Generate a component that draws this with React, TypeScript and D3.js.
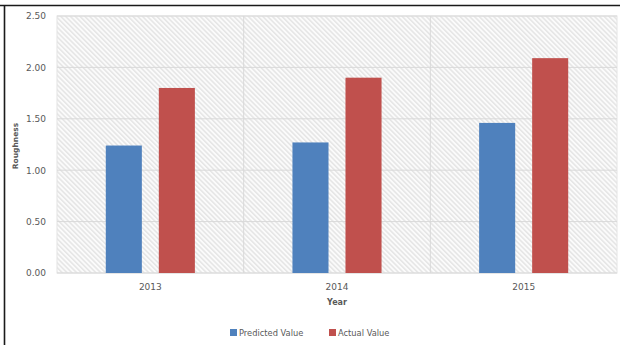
import React from "react";
import * as d3 from "d3";

const years = ["2013", "2014", "2015"];
const seriesNames = ["Predicted Value", "Actual Value"];
const predicted = [1.24, 1.27, 1.46];
const actual = [1.8, 1.9, 2.09];
const yTicks = [0, 0.5, 1, 1.5, 2, 2.5];
const colors = ["#4F81BD", "#C0504D"];

const W = 620;
const H = 345;
const plot = { left: 57, right: 617, top: 16, bottom: 273 };
const FONT = "'DejaVu Sans', Verdana, sans-serif";

export default function App() {
  const x = d3.scaleBand<string>().domain(years).range([plot.left, plot.right]).paddingInner(0).paddingOuter(0);
  const xs = d3.scaleBand<string>().domain(seriesNames).range([0, x.bandwidth()]).paddingInner(0.32).paddingOuter(0.92);
  const y = d3.scaleLinear().domain([0, 2.5]).range([plot.bottom, plot.top]);
  const values = [predicted, actual];

  return (
    <div style={{ position: "absolute", left: 0, top: 0 }}>
      <svg width={W} height={H} style={{ display: "block", background: "#ffffff" }}>
        <defs>
          <pattern id="hatch" patternUnits="userSpaceOnUse" width={3.4} height={3.4} patternTransform="rotate(-45)">
            <rect width={3.4} height={3.4} fill="#fbfbfb" />
            <line x1={0.8} y1={0} x2={0.8} y2={3.4} stroke="#dadada" strokeWidth={1} />
          </pattern>
        </defs>
        <rect x={plot.left} y={plot.top} width={plot.right - plot.left} height={plot.bottom - plot.top} fill="url(#hatch)" stroke="#e4e4e4" strokeWidth={1} />
        {yTicks.map((t) => (
          <line key={"g" + t} x1={plot.left} x2={plot.right} y1={y(t)} y2={y(t)} stroke="#d9d9d9" strokeWidth={1} />
        ))}
        {years.slice(1).map((yr) => (
          <line key={"v" + yr} x1={x(yr)!} x2={x(yr)!} y1={plot.top} y2={plot.bottom} stroke="#d9d9d9" strokeWidth={1} />
        ))}
        {years.map((yr, i) =>
          seriesNames.map((s, j) => (
            <rect
              key={yr + s}
              x={x(yr)! + xs(s)!}
              y={y(values[j][i])}
              width={xs.bandwidth()}
              height={y(0) - y(values[j][i])}
              fill={colors[j]}
            />
          ))
        )}
        {yTicks.map((t) => (
          <text key={"t" + t} x={46} y={y(t) + 3.3} textAnchor="end" fontFamily={FONT} fontSize={9} fill="#595959">
            {t.toFixed(2)}
          </text>
        ))}
        {years.map((yr) => (
          <text key={"l" + yr} x={x(yr)! + x.bandwidth() / 2} y={290} textAnchor="middle" fontFamily={FONT} fontSize={9} fill="#595959">
            {yr}
          </text>
        ))}
        <text x={337} y={305} textAnchor="middle" fontFamily={FONT} fontSize={8} fontWeight="bold" fill="#595959">
          Year
        </text>
        <text transform={`translate(18,146) rotate(-90)`} textAnchor="middle" fontFamily={FONT} fontSize={7.5} fontWeight="bold" fill="#595959">
          Roughness
        </text>
        {seriesNames.map((s, j) => {
          const lx = j === 0 ? 230 : 329;
          return (
            <g key={"lg" + s}>
              <rect x={lx} y={329} width={7} height={7} fill={colors[j]} />
              <text x={lx + 9} y={335.5} fontFamily={FONT} fontSize={8.3} fill="#595959">
                {s}
              </text>
            </g>
          );
        })}
        <line x1={0} x2={W} y1={5.5} y2={5.5} stroke="#1a1a1a" strokeWidth={1.6} />
        <line x1={4.5} x2={4.5} y1={5} y2={H} stroke="#1a1a1a" strokeWidth={1.6} />
      </svg>
    </div>
  );
}
